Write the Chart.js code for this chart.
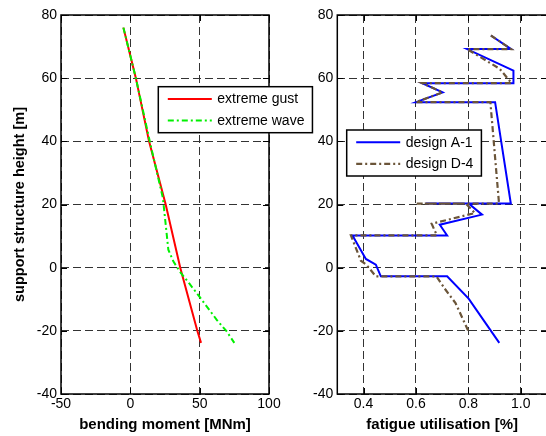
<!DOCTYPE html>
<html><head><meta charset="utf-8">
<script src="https://cdn.jsdelivr.net/npm/chart.js@4.4.1/dist/chart.umd.min.js"></script>
<style>
html,body{margin:0;padding:0;background:#fff;overflow:hidden;width:546px;height:436px;}
#wrap{position:relative;width:546px;height:436px;overflow:hidden;background:#fff;}
canvas{position:absolute;top:0;}
#c1{left:0;width:320px;height:436px;}
#c2{left:300px;width:250px;height:436px;}
</style></head><body>
<div id="wrap"><canvas id="c1" width="320" height="436"></canvas><canvas id="c2" width="250" height="436"></canvas></div>
<script>
// ---- data ----
const heightTicks = [-40, -20, 0, 20, 40, 60, 80];
const momentTicks = [-50, 0, 50, 100];
const fatigueTicks = [0.4, 0.6, 0.8, 1];

const gustMoment = [-5, 4, 13.5, 25.5, 36, 48.3, 51];
const gustHeight = [76, 60, 40, 20, 0, -20, -23.8];

const waveMoment = [-5, 4, 14, 23.5, 27.4, 31, 35.8, 42.5, 49.7, 62.3, 69.5, 75];
const waveHeight = [76, 60, 40, 22, 5.7, 2, -1.3, -5, -9.1, -16.5, -20.2, -23.8];

const a1Fatigue = [0.886, 0.963, 0.795, 0.972, 0.972, 0.624, 0.702, 0.6, 0.902, 0.962, 0.637, 0.801, 0.852, 0.691, 0.719, 0.358, 0.409, 0.447, 0.466, 0.719, 0.801, 0.918];
const a1Height  = [73.5, 69.2, 69.2, 62.4, 58.4, 58.4, 55.5, 52.4, 52.4, 20.3, 20.3, 20.3, 16.8, 13.6, 10.2, 10.2, 2.75, 0.95, -2.75, -2.75, -9.8, -23.8];

const d4Fatigue = [0.886, 0.963, 0.795, 0.919, 0.965, 0.624, 0.702, 0.6, 0.884, 0.917, 0.603, 0.79, 0.825, 0.66, 0.68, 0.352, 0.39, 0.41, 0.447, 0.678, 0.713, 0.751, 0.799];
const d4Height  = [73.5, 69.2, 69.2, 63, 58.4, 58.4, 55.5, 52.4, 52.4, 20.3, 20.3, 20.3, 17.3, 13.9, 10.2, 10.2, 2.2, 1, -2.75, -2.75, -7, -11.2, -19.9];

const pts = (xs, ys) => xs.map((x, i) => ({x: x, y: ys[i]}));

Chart.defaults.font.family = "'Liberation Sans', Arial, sans-serif";
Chart.defaults.color = '#000';

const framePlugin = {
  id: 'frame',
  afterDraw(chart, args, opts) {
    const {ctx, chartArea: a, scales} = chart;
    ctx.save();
    ctx.setLineDash([]);
    ctx.strokeStyle = '#000';
    ctx.lineWidth = 1;
    const L = 6;
    ctx.beginPath();
    scales.x.ticks.forEach(t => {
      const px = Math.round(scales.x.getPixelForValue(t.value)) + 0.5;
      ctx.moveTo(px, a.bottom); ctx.lineTo(px, a.bottom - L);
      ctx.moveTo(px, a.top); ctx.lineTo(px, a.top + L);
    });
    scales.y.ticks.forEach(t => {
      const py = Math.round(scales.y.getPixelForValue(t.value)) + 0.5;
      ctx.moveTo(a.left, py); ctx.lineTo(a.left + L, py);
      ctx.moveTo(a.right, py); ctx.lineTo(a.right - L, py);
    });
    ctx.stroke();
    ctx.lineWidth = 1.5;
    ctx.strokeRect(a.left, a.top, a.right - a.left, a.bottom - a.top);

    // legend
    const lg = opts.legend;
    if (lg) {
      ctx.font = "14px 'Liberation Sans', Arial, sans-serif";
      const ds = chart.data.datasets;
      let tw = 0;
      ds.forEach(d => { tw = Math.max(tw, ctx.measureText(d.label).width); });
      const padL = 9.5, lineLen = 44, gap = 5.5, padR = 8;
      const w = padL + lineLen + gap + tw + padR;
      const h = 46;
      ctx.fillStyle = '#fff';
      ctx.fillRect(lg.x, lg.y, w, h);
      ctx.lineWidth = 1.5;
      ctx.strokeStyle = '#000';
      ctx.strokeRect(lg.x, lg.y, w, h);
      ds.forEach((d, i) => {
        const cy = lg.y + 12.3 + i * 21.5;
        ctx.save();
        ctx.strokeStyle = d.borderColor;
        ctx.lineWidth = d.borderWidth;
        ctx.setLineDash(d.borderDash || []);
        ctx.beginPath();
        ctx.moveTo(lg.x + padL, cy);
        ctx.lineTo(lg.x + padL + lineLen, cy);
        ctx.stroke();
        ctx.restore();
        ctx.fillStyle = '#000';
        ctx.textBaseline = 'middle';
        ctx.textAlign = 'left';
        ctx.fillText(d.label, lg.x + padL + lineLen + gap, cy + 0.5);
      });
    }
    ctx.restore();
  }
};

function yScale(width, title) {
  return {
    type: 'linear', min: -40, max: 80,
    afterBuildTicks: s => { s.ticks = heightTicks.map(v => ({value: v})); },
    afterFit: s => { s.width = width; },
    grid: {color: '#333', drawTicks: false, lineWidth: 1},
    border: {display: false, dash: [8, 4]},
    ticks: {padding: 4, font: {size: 14}, color: '#000'},
    title: title ? {display: true, text: title, font: {size: 14.5, weight: 'bold'}, color: '#000', padding: {top: 11, bottom: 0}} : {display: false}
  };
}
function xScale(min, max, ticks, title) {
  return {
    type: 'linear', min: min, max: max,
    afterBuildTicks: s => { s.ticks = ticks.map(v => ({value: v})); },
    afterFit: s => { s.height = 42; },
    grid: {color: '#333', drawTicks: false, lineWidth: 1},
    border: {display: false, dash: [8, 4]},
    ticks: {padding: 2, font: {size: 14}, color: '#000', maxRotation: 0, autoSkip: false},
    title: {display: true, text: title, font: {size: 15, weight: 'bold'}, color: '#000', padding: {top: 0, bottom: 2.5}}
  };
}

const common = {
  responsive: false, animation: false, events: [],
  plugins: {legend: {display: false}, tooltip: {enabled: false}}
};

new Chart(document.getElementById('c1'), {
  type: 'scatter',
  data: {datasets: [
    {label: 'extreme gust', data: pts(gustMoment, gustHeight), showLine: true, borderColor: '#ff0000', borderWidth: 2, pointRadius: 0, order: 1},
    {label: 'extreme wave', data: pts(waveMoment, waveHeight), showLine: true, borderColor: '#00f000', borderWidth: 2, borderDash: [6, 3, 2, 3], pointRadius: 0, order: 0}
  ]},
  options: Object.assign({}, common, {
    layout: {padding: {top: 15, right: 51, left: 0, bottom: 0}},
    scales: {x: xScale(-50, 100, momentTicks, 'bending moment [MNm]'), y: yScale(61, 'support structure height [m]')},
    plugins: Object.assign({}, common.plugins, {frame: {legend: {x: 158.3, y: 86.7}}})
  }),
  plugins: [framePlugin]
});

new Chart(document.getElementById('c2'), {
  type: 'scatter',
  data: {datasets: [
    {label: 'design A-1', data: pts(a1Fatigue, a1Height), showLine: true, borderColor: '#0000ff', borderWidth: 2, pointRadius: 0, order: 1},
    {label: 'design D-4', data: pts(d4Fatigue, d4Height), showLine: true, borderColor: '#6b5539', borderWidth: 2.2, borderDash: [6, 3, 2, 3], pointRadius: 0, order: 0}
  ]},
  options: Object.assign({}, common, {
    layout: {padding: {top: 15, right: 3, left: 0, bottom: 0}},
    scales: {x: xScale(0.3, 1.1, fatigueTicks, 'fatigue utilisation [%]'), y: yScale(37.3, null)},
    plugins: Object.assign({}, common.plugins, {frame: {legend: {x: 46.7, y: 130}}})
  }),
  plugins: [framePlugin]
});
</script>
</body></html>
